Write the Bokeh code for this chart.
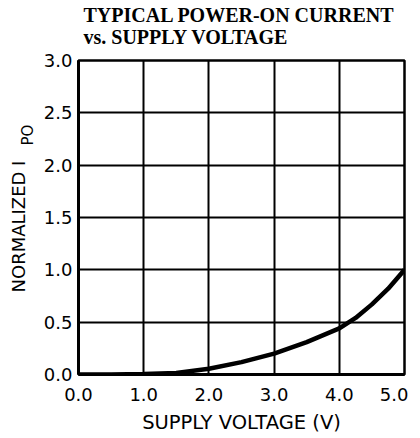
from bokeh.plotting import figure
from bokeh.models import FixedTicker, Range1d, Title
from bokeh.embed import file_html
from bokeh.resources import INLINE

# Data
voltage = [0.0, 0.5, 1.0, 1.5, 2.0, 2.5, 3.0, 3.5, 4.0, 4.25, 4.5, 4.75, 5.0]
ipo_norm = [0.0, 0.0, 0.004, 0.015, 0.055, 0.118, 0.20, 0.31, 0.44, 0.54, 0.67, 0.82, 1.0]
x_ticks = [0, 1, 2, 3, 4, 5]
y_ticks = [0.0, 0.5, 1.0, 1.5, 2.0, 2.5, 3.0]
title_lines = ["TYPICAL POWER-ON CURRENT", "vs. SUPPLY VOLTAGE"]
x_label = "SUPPLY VOLTAGE (V)"
y_label_main = "NORMALIZED I"
y_label_sub = "PO"

SANS = "DejaVu Sans"
SERIF = "Liberation Serif"

p = figure(width=408, height=438, output_backend="svg", toolbar_location=None,
           x_range=Range1d(0, 5), y_range=Range1d(0, 3),
           min_border_left=78, min_border_right=4, min_border_top=60, min_border_bottom=64)

p.outline_line_color = "black"
p.outline_line_width = 2.5
p.background_fill_color = "white"
p.border_fill_color = "white"

for ax in (p.xaxis, p.yaxis):
    ax.axis_line_color = "black"
    ax.axis_line_width = 3
    ax.major_tick_line_color = None
    ax.minor_tick_line_color = None
    ax.major_tick_out = 0
    ax.major_tick_in = 0
    ax.minor_tick_out = 0
    ax.major_label_text_font = SANS
    ax.major_label_text_font_size = "18px"
    ax.major_label_text_color = "black"
    ax.axis_label_text_font = SANS
    ax.axis_label_text_font_style = "normal"
    ax.axis_label_text_color = "black"

p.xaxis.ticker = FixedTicker(ticks=x_ticks)
p.yaxis.ticker = FixedTicker(ticks=y_ticks)
p.xaxis.major_label_overrides = {t: f"{t:.1f}" for t in x_ticks}
p.yaxis.major_label_overrides = {t: f"{t:.1f}" for t in y_ticks}
p.xaxis.major_label_standoff = 13
p.yaxis.major_label_standoff = 6
p.xaxis.axis_label = x_label
p.xaxis.axis_label_text_font_size = "19.5px"
p.xaxis.axis_label_standoff = 7

p.xgrid.ticker = FixedTicker(ticks=x_ticks)
p.ygrid.ticker = FixedTicker(ticks=y_ticks)
for g in (p.xgrid, p.ygrid):
    g.grid_line_color = "black"
    g.grid_line_width = 2
    g.grid_line_alpha = 1.0

p.line(voltage, ipo_norm, line_color="black", line_width=4.5)

# Title (two lines; last added is topmost)
p.add_layout(Title(text=title_lines[1], text_font=SERIF, text_font_style="bold",
                   text_font_size="20px", text_color="black", align="left",
                   offset=5, standoff=25), "above")
p.add_layout(Title(text=title_lines[0], text_font=SERIF, text_font_style="bold",
                   text_font_size="20px", text_color="black", align="left",
                   offset=5, standoff=-29), "above")

# Y-axis label: subscript (closer to the axis) then main text
p.add_layout(Title(text=y_label_sub, text_font=SANS, text_font_style="normal",
                   text_font_size="15px", text_color="black", align="left",
                   offset=229, standoff=8), "left")
p.add_layout(Title(text=y_label_main, text_font=SANS, text_font_style="normal",
                   text_font_size="18px", text_color="black", align="left",
                   offset=82, standoff=-32), "left")

open("out.html", "w").write(file_html(p, INLINE))
